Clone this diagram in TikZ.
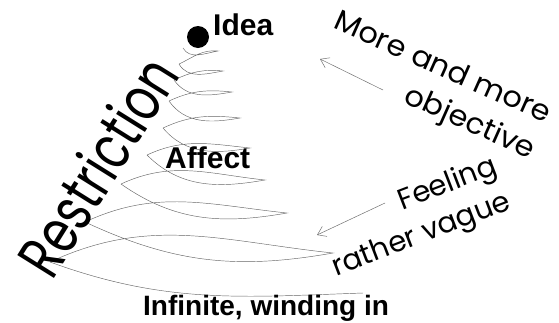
\documentclass[tikz,border=0pt]{standalone}
\usepackage{fontspec}
\setmainfont{Liberation Sans}
\newfontfamily\gothic{Poppins}
\newfontfamily\gothicwide[FakeStretch=1.05]{Poppins}
\newfontfamily\gothicnarrow[FakeStretch=0.75]{Poppins}
\usetikzlibrary{arrows.meta}

\begin{document}
\begin{tikzpicture}[x=1pt,y=-1pt,
  coil/.style={draw=black!60,line width=0.45pt},
  hint/.style={-{Straight Barb[length=8pt,width=11pt]},draw=black!55,line width=0.5pt},
  lab/.style={font=\fontsize{30}{34}\selectfont\bfseries,inner sep=0pt,anchor=base west},
  note/.style={font=\gothic\fontsize{29}{38}\selectfont,align=right,inner sep=0pt}]
\useasboundingbox (0,0) rectangle (559,322);
% turning points of the winding, left and right
\foreach \n/\lx/\ly/\rx/\ry in {0/183/48/218/51,1/179/64/223/71,2/174/80/232/92,
                                3/169/101/240/118,4/163/128/250/148,5/147/155/265/180,
                                6/121/184/287/213,7/85/222/333/253,8/50/262/363/293}{
  \coordinate (l\n) at (\lx,\ly);
  \coordinate (r\n) at (\rx,\ry);
}
% winding, one lens per turn
\foreach \n/\a [count=\m from 1] in {0/-60,1/-60,2/-55,3/-55,4/-50,5/-45,6/-35,7/-25}{
  \draw[coil] (l\n) to[out=\a,in=190] (r\n) to[out=174,in=25] (l\m);
}
\draw[coil] (l8) to[out=-20,in=182] (r8);
% top of the winding
\fill (198,37) circle (11pt) coordinate (dot);
\node[lab] (idea) at (213,35) {Idea};
\node[lab] (affect) at (165,168) {Affect};
\node[lab,font=\fontsize{28}{32}\selectfont\bfseries] (infinite) at (143,315) {Infinite, winding in};
% side remarks
\node[font=\gothicnarrow\fontsize{62}{64}\selectfont,inner sep=0pt,rotate=58] (restr) at (97,166) {Restriction};
\node[note,font=\gothicwide\fontsize{29}{39}\selectfont,rotate=-24] (objective) at (434,87) {More and more\\objective};
\node[note,rotate=21] (vague) at (415,218) {Feeling\\rather vague};
\coordinate (objtail) at (383,90);
\coordinate (objtip) at (320,59);
\coordinate (vagtail) at (385,203);
\coordinate (vagtip) at (317,235);
\draw[hint] (objtail) -- (objtip);
\draw[hint] (vagtail) -- (vagtip);
\end{tikzpicture}
\end{document}
